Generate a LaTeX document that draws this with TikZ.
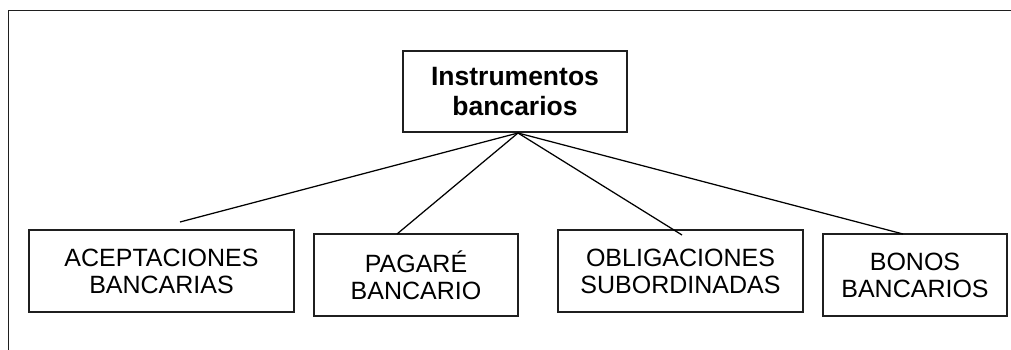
\documentclass[tikz,border=0pt]{standalone}
\usepackage{fontspec}
\setmainfont{Liberation Sans}
\usepackage{tikz}
\tikzset{
    marco/.style={draw=black!88, line width=1.5pt},
    caja/.style={draw=black!88, line width=1.5pt, align=center, inner sep=0pt,
        minimum height=82pt, font=\fontsize{25}{27}\selectfont},
    titulo/.style={caja, minimum height=81pt, font=\fontsize{26.5}{30}\selectfont\bfseries},
    rama/.style={draw=black, line width=1.25pt}
}

\begin{document}
\begin{tikzpicture}[x=1pt, y=-1pt]
\useasboundingbox (0,0) rectangle (1011,350);
\draw[style={marco}] (8.5,360) -- (8.5,10.5) -- (1020,10.5);

\node[style={titulo}, minimum width=224pt] (inst) at (515,91.5) {Instrumentos\\bancarios};

\node[style={caja}, minimum width=265pt] (acep) at (161.5,271) {ACEPTACIONES\\BANCARIAS};
\node[style={caja}, minimum width=204pt] (paga) at (416,275) {PAGARÉ\\BANCARIO};
\node[style={caja}, minimum width=245pt] (obli) at (680.5,271) {OBLIGACIONES\\SUBORDINADAS};
\node[style={caja}, minimum width=184pt] (bono) at (915,275) {BONOS\\BANCARIOS};

\coordinate (vertice) at (518,133);
\coordinate (fin-acep) at (180,222);
\coordinate (fin-paga) at (397,234);
\coordinate (fin-obli) at (682,235);
\coordinate (fin-bono) at (903,234);

\draw[style={rama}] (vertice) -- (fin-acep);
\draw[style={rama}] (vertice) -- (fin-paga);
\draw[style={rama}] (vertice) -- (fin-obli);
\draw[style={rama}] (vertice) -- (fin-bono);
\end{tikzpicture}
\end{document}
